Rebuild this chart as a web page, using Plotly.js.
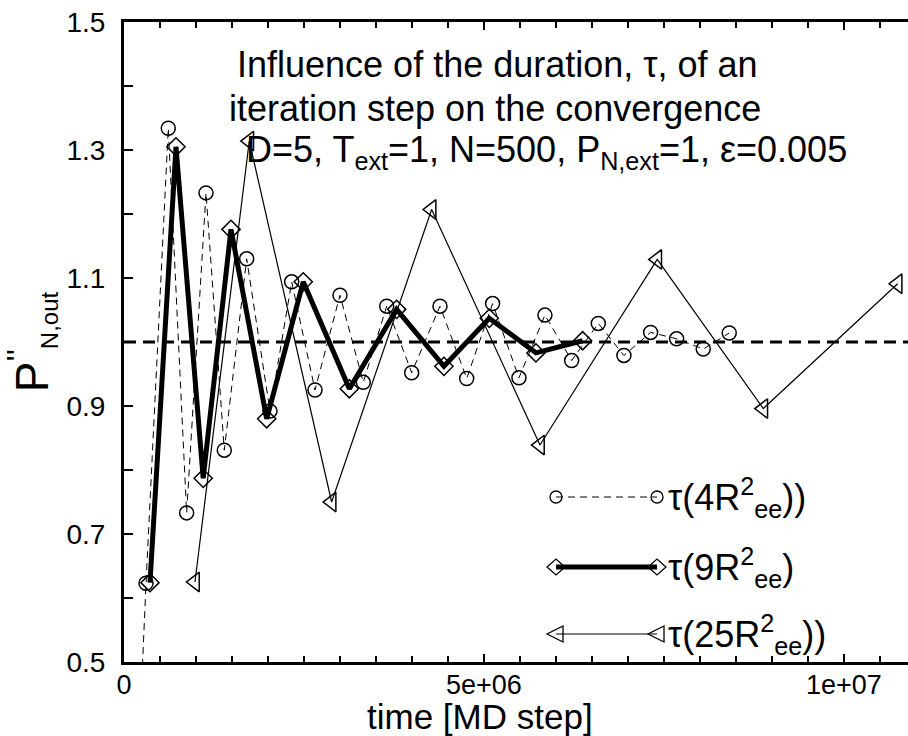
<!DOCTYPE html>
<html>
<head>
<meta charset="utf-8">
<script src="https://cdn.plot.ly/plotly-3.0.1.min.js"></script>
<style>html,body{margin:0;padding:0;background:#fff;}#chart{width:908px;height:736px;}</style>
</head>
<body>
<div id="chart"></div>
<script>
// ---- data (time in MD steps, pressure P''_{N,out}) ----
const time4 = [2.2e5, 3.06e5, 6.15e5, 8.7e5, 1.139e6, 1.393e6, 1.704e6, 2.028e6, 2.329e6, 2.653e6, 3.0e6, 3.324e6, 3.649e6, 3.996e6, 4.389e6, 4.76e6, 5.12e6, 5.486e6, 5.847e6, 6.218e6, 6.588e6, 6.944e6, 7.315e6, 7.676e6, 8.046e6, 8.407e6];
const p4    = [0.40, 0.623, 1.334, 0.733, 1.233, 0.831, 1.130, 0.892, 1.094, 0.925, 1.073, 0.937, 1.056, 0.952, 1.056, 0.943, 1.060, 0.944, 1.042, 0.971, 1.029, 0.979, 1.015, 1.005, 0.989, 1.014];

const time9 = [3.61e5, 7.22e5, 1.10e6, 1.486e6, 1.982e6, 2.49e6, 3.13e6, 3.787e6, 4.444e6, 5.074e6, 5.722e6, 6.37e6];
const p9    = [0.624, 1.305, 0.787, 1.176, 0.880, 1.094, 0.927, 1.051, 0.962, 1.037, 0.983, 1.002];

const time25 = [9.86e5, 1.74e6, 2.884e6, 4.273e6, 5.778e6, 7.407e6, 8.88e6, 1.0746e7];
const p25    = [0.625, 1.314, 0.750, 1.207, 0.839, 1.129, 0.896, 1.091];

const refLevel = 1.0;
const xTickVals = [0, 5e6, 1e7];
const xTickText = ['0', '5e+06', '1e+07'];
const seriesNames = ['τ(4R<sup>2</sup><sub>ee</sub>))', 'τ(9R<sup>2</sup><sub>ee</sub>)', 'τ(25R<sup>2</sup><sub>ee</sub>))'];
const titleLines = ['Influence of the duration, τ, of an', 'iteration step on the convergence',
  'D=5, T<sub>ext</sub>=1, N=500, P<sub>N,ext</sub>=1, ε=0.005'];
const xTitle = 'time [MD step]';
const yTitle = "P<sup>''</sup><sub><span style='font-size:24px'>N,out</span></sub>";

const FONT = 'Liberation Sans, Arial, Helvetica, sans-serif';

const traces = [
  {x: time4, y: p4, mode: 'lines+markers', name: seriesNames[0],
   line: {color: 'black', width: 1, dash: '7px,5px'},
   marker: {symbol: 'circle-open', size: 14, color: 'black', line: {width: 1.5, color: 'black'}}},
  {x: time9, y: p9, mode: 'lines+markers', name: seriesNames[1],
   line: {color: 'black', width: 5},
   marker: {symbol: 'diamond-open', size: 14, color: 'black', line: {width: 1.5, color: 'black'}}},
  {x: time25, y: p25, mode: 'lines+markers', name: seriesNames[2],
   line: {color: 'black', width: 1.2},
   marker: {symbol: 'triangle-left-open', size: 17, color: 'black', line: {width: 1.5, color: 'black'}}}
];

// plot area geometry (px) for legend layout
const W = 908, H = 736, ML = 124, MR = 0, MT = 22, MB = 74;
const PW = W - ML - MR, PH = H - MT - MB;
const px = v => (v - ML) / PW;
const py = v => (H - MB - v) / PH;

const shapes = [
  {type: 'line', xref: 'paper', yref: 'y', x0: 0, x1: 1, y0: refLevel, y1: refLevel,
   line: {color: 'black', width: 3, dash: '12px,7px'}, layer: 'below'}
];
const annotations = [];

// manual legend
const legRows = [497, 567, 634];
const legX0 = 556, legX1 = 657, legText = 666;
const legLine = [{width: 1, dash: '7px,5px'}, {width: 5, dash: 'solid'}, {width: 1.2, dash: 'solid'}];
const markerPath = [
  null,
  'M-9,0L0,-8L9,0L0,8Z',
  'M-9,0L7,-8L7,8Z'
];
legRows.forEach((ry, i) => {
  shapes.push({type: 'line', xref: 'paper', yref: 'paper', x0: px(legX0), x1: px(legX1), y0: py(ry), y1: py(ry),
    line: {color: 'black', width: legLine[i].width, dash: legLine[i].dash}});
  [legX0, legX1].forEach(mx => {
    if (i === 0) {
      shapes.push({type: 'circle', xref: 'paper', yref: 'paper', xsizemode: 'pixel', ysizemode: 'pixel',
        xanchor: px(mx), yanchor: py(ry), x0: -6, x1: 6, y0: -6, y1: 6, line: {color: 'black', width: 1.3}});
    } else {
      shapes.push({type: 'path', xref: 'paper', yref: 'paper', xsizemode: 'pixel', ysizemode: 'pixel',
        xanchor: px(mx), yanchor: py(ry), path: markerPath[i], line: {color: 'black', width: 1.3}});
    }
  });
  annotations.push({xref: 'paper', yref: 'paper', x: px(legText), y: py(ry), xanchor: 'left', yanchor: 'middle',
    text: seriesNames[i], showarrow: false, font: {family: FONT, size: 36, color: 'black'}});
});

// title lines
const titleY = [64, 108, 152];
const titleX = [497, 495, 546];
titleLines.forEach((t, i) => {
  annotations.push({xref: 'paper', yref: 'paper', x: px(titleX[i]), y: py(titleY[i]), xanchor: 'center', yanchor: 'middle',
    text: t, showarrow: false, font: {family: FONT, size: 36, color: 'black'}});
});

// x-axis title (placed to match reference centering)
annotations.push({xref: 'paper', yref: 'paper', x: px(480), y: py(716), xanchor: 'center', yanchor: 'middle',
  text: xTitle, showarrow: false, font: {family: FONT, size: 35, color: 'black'}});

const layout = {
  width: W, height: H,
  margin: {l: ML, r: MR, t: MT, b: MB, pad: 0},
  paper_bgcolor: 'white', plot_bgcolor: 'white',
  showlegend: false,
  font: {family: FONT, color: 'black'},
  xaxis: {
    range: [0, 1.089e7], showgrid: false, zeroline: false,
    showline: true, linewidth: 3, linecolor: 'black', mirror: 'allticks',
    ticks: 'inside', ticklen: 8, tickwidth: 1.5, tickcolor: 'black',
    tickvals: xTickVals, ticktext: xTickText,
    ticklabelstandoff: -3,
    tickfont: {family: FONT, size: 27, color: 'black'},
    minor: {dtick: 5e5, tick0: 0, ticks: 'inside', ticklen: 6, tickwidth: 1.2, tickcolor: 'black'}
  },
  yaxis: {
    range: [0.5, 1.5], showgrid: false, zeroline: false,
    showline: true, linewidth: 3, linecolor: 'black',
    ticks: 'inside', ticklen: 9, tickwidth: 1.5, tickcolor: 'black',
    tick0: 0.5, dtick: 0.2, tickformat: '.1f',
    ticklabelstandoff: 10,
    tickfont: {family: FONT, size: 28, color: 'black'},
    minor: {dtick: 0.1, tick0: 0.5, ticks: 'inside', ticklen: 9, tickwidth: 1.5, tickcolor: 'black'},
    title: {text: yTitle, font: {family: FONT, size: 46, color: 'black'}, standoff: 8}
  },
  shapes: shapes,
  annotations: annotations
};

Plotly.newPlot('chart', traces, layout, {displayModeBar: false, staticPlot: true});
</script>
</body>
</html>
